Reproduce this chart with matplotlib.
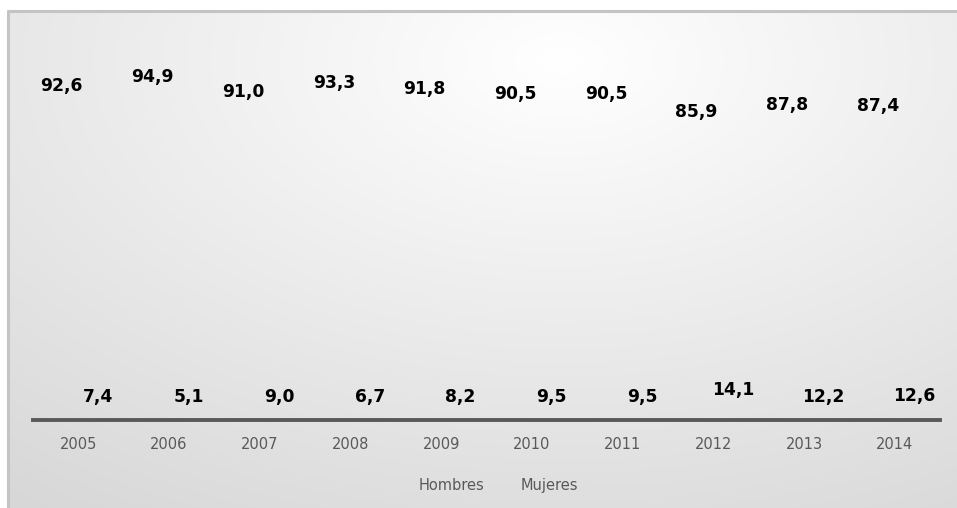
import numpy as np
import matplotlib.pyplot as plt

years = ['2005', '2006', '2007', '2008', '2009', '2010', '2011', '2012', '2013', '2014']
hombres = [92.6, 94.9, 91.0, 93.3, 91.8, 90.5, 90.5, 85.9, 87.8, 87.4]
mujeres = [7.4, 5.1, 9.0, 6.7, 8.2, 9.5, 9.5, 14.1, 12.2, 12.6]
series_names = ['Hombres', 'Mujeres']

W, H = 957, 508
fig = plt.figure(figsize=(W / 100, H / 100), dpi=100, facecolor='white')

# soft radial background inside the chart frame
bg = fig.add_axes([0, 0, 1, 1], zorder=-5)
bg.set_xlim(0, W)
bg.set_ylim(H, 0)
bg.axis('off')
yy, xx = np.mgrid[0:H, 0:W]
d = np.sqrt(((xx - 560) / 560.0) ** 2 + ((yy - 60) / 330.0) ** 2)
v = np.clip(255 - 24 * d, 215, 255) / 255.0
img = np.dstack([v, v, v])
img[:10, :, :] = 1.0
img[:, :7, :] = 1.0
bg.imshow(img, extent=(0, W, H, 0), interpolation='bilinear', aspect='auto')
bg.plot([7, W], [10.5, 10.5], color='#c4c4c4', lw=2.2, solid_capstyle='butt')
bg.plot([7.5, 7.5], [10, H], color='#c4c4c4', lw=2.2, solid_capstyle='butt')

ax = fig.add_axes([33 / W, 88 / H, 907 / W, 390 / H])
ax.patch.set_alpha(0)
x = np.arange(len(years))
ax.plot(x, hombres, linestyle='none', label=series_names[0])
ax.plot(x, mujeres, linestyle='none', label=series_names[1])
ax.set_xlim(-0.5, len(years) - 0.5)
ax.set_ylim(0, 100)

for s in ['top', 'right', 'left']:
    ax.spines[s].set_visible(False)
ax.spines['bottom'].set_color('#595959')
ax.spines['bottom'].set_linewidth(2.8)
ax.set_yticks([])
ax.set_xticks(x)
ax.set_xticklabels(years, family='DejaVu Sans', fontsize=10.5, color='#595959')
ax.tick_params(axis='x', length=0, pad=12)

# data labels sit below each point, kept clear of the axis line
lab_font = dict(family='DejaVu Sans', fontweight='bold', fontsize=12.3, color='black')
px_per_unit = 390 / 100.0
for xi, val in zip(x, hombres):
    ax.annotate(f'{val:.1f}'.replace('.', ','), (xi, val - 27 / px_per_unit),
                xytext=(-12, 0), textcoords='offset points',
                ha='center', va='center', **lab_font)
for xi, val in zip(x, mujeres):
    ty = max(val - 25 / px_per_unit, 23 / px_per_unit)
    ax.annotate(f'{val:.1f}'.replace('.', ','), (xi, ty),
                xytext=(14, 0), textcoords='offset points',
                ha='center', va='center', **lab_font)

# legend entries (series drawn without markers, so text only)
for name, cx in zip(series_names, [452, 549]):
    fig.text(cx / W, 1 - 490 / H, name, ha='center', va='baseline',
             family='DejaVu Sans', fontsize=10.5, color='#595959')

fig.savefig('out.png', dpi=100, facecolor='white')
